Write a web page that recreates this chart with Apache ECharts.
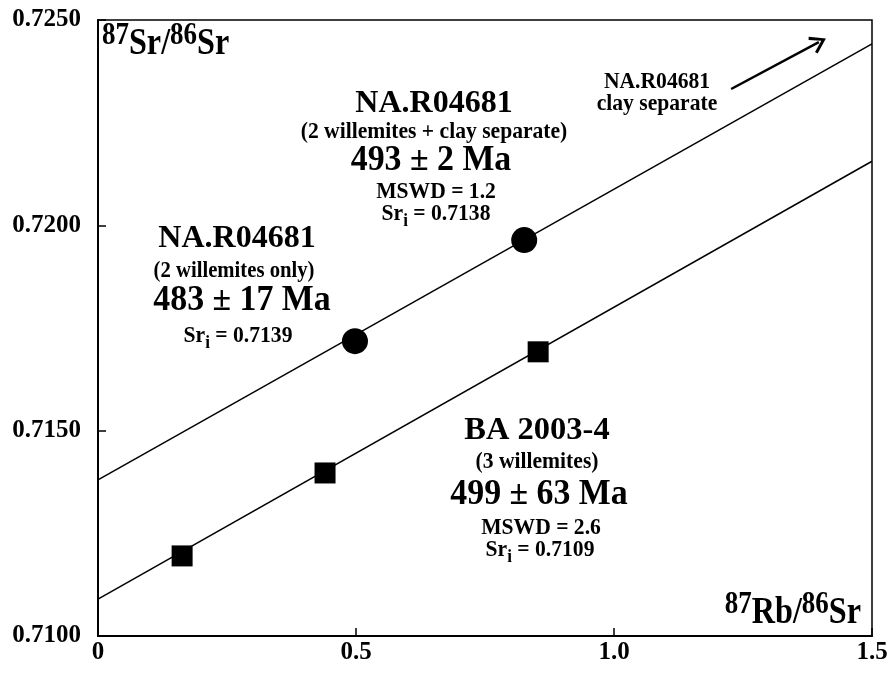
<!DOCTYPE html>
<html>
<head>
<meta charset="utf-8">
<script src="https://cdn.jsdelivr.net/npm/echarts@6/dist/echarts.min.js"></script>
<style>
  html, body { margin: 0; padding: 0; background: #fff; }
  #chart { width: 890px; height: 679px; }
</style>
</head>
<body>
<div id="chart"></div>
<script>
const FONT = "'Liberation Serif', 'Times New Roman', Times, serif";

// 87Rb/86Sr (x) versus 87Sr/86Sr (y)
const naR04681Willemites = [[0.498, 0.71718], [0.826, 0.71964]];
const ba20034Willemites = [[0.163, 0.71195], [0.440, 0.71397], [0.853, 0.71692]];

// Isochrons: initial ratio (Sri) at x = 0 and value at the right edge
const naIsochron = [[0, 0.7138], [1.5, 0.72442]];
const baIsochron = [[0, 0.7109], [1.5, 0.72156]];

// Arrow pointing towards the off-scale clay separate
const clayArrow = [[1.227, 0.72332], [1.397, 0.72446]];

const xRange = [0, 1.5, 0.5];          // min, max, interval
const yRange = [0.7100, 0.7250, 0.0050];

const chart = echarts.init(document.getElementById('chart'), null, { renderer: 'canvas' });

// Bold serif annotation; sx narrows the glyphs horizontally
function txt(x, y, text, size, sx, extra) {
  return {
    type: 'text',
    x: x, y: y,
    scaleX: sx || 1,
    silent: true,
    style: Object.assign({
      text: text,
      fontFamily: FONT,
      fontWeight: 'bold',
      fontSize: size,
      fill: '#000',
      align: 'center', verticalAlign: 'middle',
      textAlign: 'center', textVerticalAlign: 'middle'
    }, extra || {})
  };
}

// "Sr" with subscript i followed by a value
function sri(x, y, value, size, sx) {
  return txt(x, y, '{b|Sr}{s|i}{b| = ' + value + '}', size, sx, {
    rich: {
      b: { fontFamily: FONT, fontWeight: 'bold', fontSize: size, fill: '#000' },
      s: { fontFamily: FONT, fontWeight: 'bold', fontSize: Math.round(size * 0.8), fill: '#000', padding: [15, 0, 0, 0] }
    }
  });
}

// Isotope ratio title with raised mass numbers
function ratioTitle(x, y, a, b, c, d, align) {
  const sup = { fontFamily: FONT, fontWeight: 'bold', fontSize: 31, fill: '#000', padding: [0, 0, 16, 0] };
  const base = { fontFamily: FONT, fontWeight: 'bold', fontSize: 37, fill: '#000' };
  return txt(x, y, '{p|' + a + '}{q|' + b + '/}{p|' + c + '}{q|' + d + '}', 37, 0.87, {
    align: align, textAlign: align,
    rich: { p: sup, q: base }
  });
}

const SMALL = 24, SMALL_SX = 0.9;
const AGE = 36, AGE_SX = 0.94;

const option = {
  animation: false,
  backgroundColor: '#fff',
  grid: {
    left: 98, right: 18, top: 20, bottom: 43,
    containLabel: false,
    outerBoundsMode: 'none',
    show: true, borderColor: '#000', borderWidth: 1.5, backgroundColor: 'transparent'
  },
  xAxis: {
    type: 'value',
    min: xRange[0], max: xRange[1], interval: xRange[2],
    axisLine: { show: true, onZero: false, lineStyle: { color: '#000', width: 2 } },
    axisTick: { show: true, inside: true, length: 8, lineStyle: { color: '#000', width: 1.5 } },
    splitLine: { show: false },
    axisLabel: {
      margin: 4,
      color: '#000', fontFamily: FONT, fontWeight: 'bold', fontSize: 25,
      formatter: v => (v === 0 ? '0' : v.toFixed(1))
    }
  },
  yAxis: {
    type: 'value',
    min: yRange[0], max: yRange[1], interval: yRange[2],
    axisLine: { show: true, onZero: false, lineStyle: { color: '#000', width: 2 } },
    axisTick: { show: true, inside: true, length: 8, lineStyle: { color: '#000', width: 1.5 } },
    splitLine: { show: false },
    axisLabel: {
      margin: 17,
      color: '#000', fontFamily: FONT, fontWeight: 'bold', fontSize: 25,
      formatter: v => v.toFixed(4)
    }
  },
  series: [
    {
      name: 'NA.R04681 isochron', type: 'line', data: naIsochron,
      symbol: 'none', silent: true, z: 2,
      lineStyle: { color: '#000', width: 1.5 },
      markLine: {
        silent: true,
        symbol: ['none', 'path://M9,0 L18,14 L15.5,15.5 L9,5 L2.5,15.5 L0,14 Z'],
        symbolSize: [19, 16],
        label: { show: false },
        lineStyle: { color: '#000', width: 2.5, type: 'solid' },
        data: [[{ coord: clayArrow[0] }, { coord: clayArrow[1] }]]
      }
    },
    {
      name: 'BA 2003-4 isochron', type: 'line', data: baIsochron,
      symbol: 'none', silent: true, z: 2,
      lineStyle: { color: '#000', width: 1.5 }
    },
    {
      name: 'NA.R04681 willemites', type: 'scatter', data: naR04681Willemites,
      symbol: 'circle', symbolSize: 26, z: 3,
      itemStyle: { color: '#000', opacity: 1 }
    },
    {
      name: 'BA 2003-4 willemites', type: 'scatter', data: ba20034Willemites,
      symbol: 'rect', symbolSize: 21, z: 3,
      itemStyle: { color: '#000', opacity: 1 }
    }
  ],
  graphic: [
    ratioTitle(102, 44, '87', 'Sr', '86', 'Sr', 'left'),
    ratioTitle(861, 613, '87', 'Rb', '86', 'Sr', 'right'),

    txt(434, 104, 'NA.R04681', 32),
    txt(434, 132, '(2 willemites + clay separate)', SMALL, SMALL_SX),
    txt(431, 161, '493 ± 2 Ma', AGE, AGE_SX),
    txt(436, 192, 'MSWD = 1.2', SMALL, SMALL_SX),
    sri(436, 214, '0.7138', SMALL, SMALL_SX),

    txt(237, 239, 'NA.R04681', 32),
    txt(234, 271, '(2 willemites only)', 23, SMALL_SX),
    txt(242, 301, '483 ± 17 Ma', AGE, AGE_SX),
    sri(238, 336, '0.7139', SMALL, SMALL_SX),

    txt(537, 431, 'BA 2003-4', 32.5),
    txt(537, 462, '(3 willemites)', SMALL, SMALL_SX),
    txt(539, 495, '499 ± 63 Ma', AGE, AGE_SX),
    txt(541, 528, 'MSWD = 2.6', SMALL, SMALL_SX),
    sri(540, 550, '0.7109', SMALL, SMALL_SX),

    txt(657, 82, 'NA.R04681', SMALL, SMALL_SX),
    txt(657, 104, 'clay separate', SMALL, SMALL_SX)
  ]
};

chart.setOption(option);
</script>
</body>
</html>
